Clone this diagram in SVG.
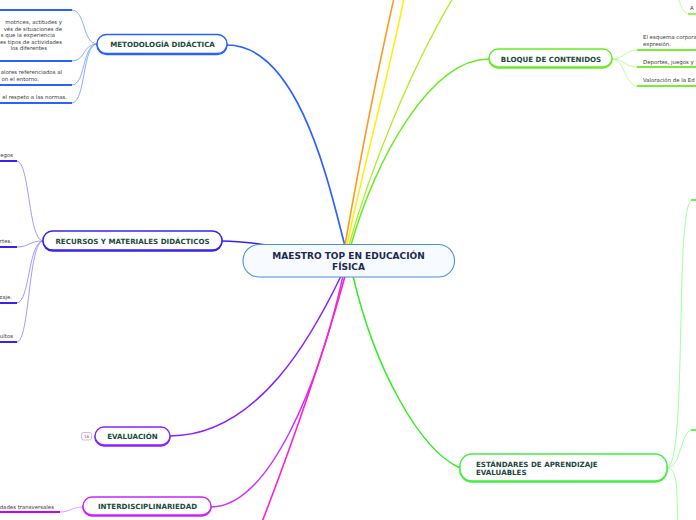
<svg xmlns="http://www.w3.org/2000/svg" width="696" height="520" viewBox="0 0 696 520">
<style>
.c{fill:none;stroke-linecap:round}
.t{font-family:"DejaVu Sans",Verdana,sans-serif;font-weight:bold;font-size:7.1px;fill:#1a4a3a}
.s{font-family:"DejaVu Sans",Verdana,sans-serif;font-size:5.4px;fill:#3a3a3a}
.nb{fill:#fff;stroke-width:1.4}
</style>
<rect width="696" height="520" fill="#fff"/>
<g id="connectors">
  <path class="c" d="M227,45 C300,45 330,190 345,246" stroke="#2a62ff" stroke-width="1.7"/>
  <path class="c" d="M222,241 C245,241 255,244 275,246" stroke="#3a22ee" stroke-width="1.5"/>
  <path class="c" d="M170,436 C260,436 315,330 341,276" stroke="#8822ff" stroke-width="1.5"/>
  <path class="c" d="M211,507 C270,507 320,380 343,276" stroke="#cc33ff" stroke-width="1.5"/>
  <path class="c" d="M262,522 C290,450 325,350 345,276" stroke="#ff22cc" stroke-width="1.6"/>
  <path class="c" d="M460,468 C420,450 375,370 353,276" stroke="#33ee22" stroke-width="1.5"/>
  <path class="c" d="M351,245 C375,160 430,59 489,59" stroke="#66ee22" stroke-width="1.5"/>
  <path class="c" d="M349,245 C370,170 410,70 453,-2" stroke="#aaee22" stroke-width="1.3"/>
  <path class="c" d="M347,245 C365,160 390,70 404,-2" stroke="#ffee00" stroke-width="1.5"/>
  <path class="c" d="M345,245 C360,160 380,60 394,-2" stroke="#ff9922" stroke-width="1.6"/>
  <!-- metodologia children -->
  <path class="c" d="M97,44 C82,44 86,10 72,10" stroke="#6a9aff" stroke-width="0.8"/>
  <path class="c" d="M97,44 C82,44 86,61 72,61" stroke="#6a9aff" stroke-width="0.8"/>
  <path class="c" d="M97,44 C82,44 86,85 72,85" stroke="#6a9aff" stroke-width="0.8"/>
  <path class="c" d="M97,44 C82,44 86,103 72,103" stroke="#6a9aff" stroke-width="0.8"/>
  <!-- recursos children -->
  <path class="c" d="M43,241 C28,241 30,161 17,161" stroke="#8a80ff" stroke-width="0.8"/>
  <path class="c" d="M43,241 C28,241 30,247 17,247" stroke="#8a80ff" stroke-width="0.8"/>
  <path class="c" d="M43,241 C28,241 30,303 17,303" stroke="#8a80ff" stroke-width="0.8"/>
  <path class="c" d="M43,241 C28,241 30,342 17,342" stroke="#8a80ff" stroke-width="0.8"/>
  <!-- inter child -->
  <path class="c" d="M83,507 C72,507 70,512 60,512" stroke="#dd88ff" stroke-width="0.8"/>
  <!-- bloque children -->
  <path class="c" d="M612,59 C625,59 625,50 637,50" stroke="#aaff77" stroke-width="0.8"/>
  <path class="c" d="M612,59 C625,59 625,67 637,67" stroke="#aaff77" stroke-width="0.8"/>
  <path class="c" d="M612,59 C625,59 625,86 637,86" stroke="#aaff77" stroke-width="0.8"/>
  <path class="c" d="M678,-2 C682,8 683,14 690,14" stroke="#aaff77" stroke-width="0.8"/>
  <!-- estandares children -->
  <path class="c" d="M667,468 C688,468 674,200 692,200" stroke="#88ff88" stroke-width="0.8"/>
  <path class="c" d="M667,468 C682,468 680,430 692,430" stroke="#88ff88" stroke-width="0.8"/>
  <path class="c" d="M667,468 C680,468 676,500 678,522" stroke="#88ff88" stroke-width="0.8"/>
</g>
<g id="metodologia-children">
  <line x1="0" y1="10" x2="72" y2="10" stroke="#2a62ff" stroke-width="2"/>
  <text class="s" text-anchor="end"><tspan x="62" y="24">motrices, actitudes y</tspan><tspan x="62" y="30.5">vés de situaciones de</tspan><tspan x="55" y="37">s que la experiencia</tspan><tspan x="62" y="43.5">es tipos de actividades</tspan><tspan x="47" y="50">los diferentes</tspan></text>
  <line x1="0" y1="61" x2="72" y2="61" stroke="#2a62ff" stroke-width="2"/>
  <text class="s" text-anchor="end"><tspan x="62" y="74">alores referenciados al</tspan><tspan x="39" y="80.5">on el entorno.</tspan></text>
  <line x1="0" y1="85" x2="72" y2="85" stroke="#2a62ff" stroke-width="2"/>
  <text class="s" text-anchor="end" x="67" y="99">el respeto a las normas.</text>
  <line x1="0" y1="103" x2="72" y2="103" stroke="#2a62ff" stroke-width="2"/>
</g>
<g id="recursos-children">
  <text class="s" text-anchor="end" x="13" y="157">egos</text>
  <line x1="0" y1="161" x2="17" y2="161" stroke="#3a22ee" stroke-width="2"/>
  <text class="s" text-anchor="end" x="12" y="243">rtes.</text>
  <line x1="0" y1="247" x2="17" y2="247" stroke="#3a22ee" stroke-width="2"/>
  <text class="s" text-anchor="end" x="12" y="299">zaje.</text>
  <line x1="0" y1="303" x2="17" y2="303" stroke="#3a22ee" stroke-width="2"/>
  <text class="s" text-anchor="end" x="13" y="338">ultos</text>
  <line x1="0" y1="342" x2="17" y2="342" stroke="#3a22ee" stroke-width="2"/>
</g>
<g id="inter-child">
  <text class="s" text-anchor="end" x="54" y="509">dades transversales</text>
  <line x1="0" y1="512" x2="60" y2="512" stroke="#cc00ff" stroke-width="2"/>
</g>
<g id="bloque-children">
  <text class="s" x="643"><tspan x="643" y="39">El esquema corpora</tspan><tspan x="643" y="45.5">expresión.</tspan></text>
  <line x1="637" y1="50" x2="696" y2="50" stroke="#77ee33" stroke-width="2"/>
  <text class="s" x="643" y="64">Deportes, juegos y</text>
  <line x1="637" y1="67" x2="696" y2="67" stroke="#77ee33" stroke-width="2"/>
  <text class="s" x="643" y="82">Valoración de la Ed</text>
  <line x1="637" y1="86" x2="696" y2="86" stroke="#77ee33" stroke-width="2"/>
  <text class="s" x="690" y="10">A</text>
  <line x1="688" y1="14" x2="696" y2="14" stroke="#77ee33" stroke-width="1.5"/>
</g>
<g id="estandares-children">
  <line x1="691" y1="200" x2="696" y2="200" stroke="#55ff44" stroke-width="2"/>
  <line x1="691" y1="430" x2="696" y2="430" stroke="#55ff44" stroke-width="2"/>
</g>
<g id="central">
  <rect x="243" y="244.5" width="211.5" height="32.5" rx="16" fill="#f7fbff" stroke="#4a90d0" stroke-width="1.1"/>
  <text class="t" style="font-size:9px;fill:#1a2a50" text-anchor="middle"><tspan x="348.5" y="258.5">MAESTRO TOP EN EDUCACIÓN</tspan><tspan x="348.5" y="269.5">FÍSICA</tspan></text>
</g>
<g id="metodologia">
  <rect x="97" y="35.5" width="130" height="19" rx="9.5" fill="#2a62ff" stroke="#2a62ff" stroke-width="1.4"/>
  <rect class="nb" x="97" y="34.5" width="130" height="19" rx="9.5" stroke="#2a62ff"/>
  <text class="t" text-anchor="middle" x="162.5" y="46.8">METODOLOGÍA DIDÁCTICA</text>
</g>
<g id="recursos">
  <rect x="43" y="232" width="179" height="19" rx="9.5" fill="#3a22ee" stroke="#3a22ee" stroke-width="1.4"/>
  <rect class="nb" x="43" y="231" width="179" height="19" rx="9.5" stroke="#3a22ee"/>
  <text class="t" text-anchor="middle" x="132.5" y="243.6">RECURSOS Y MATERIALES DIDÁCTICOS</text>
</g>
<g id="evaluacion">
  <rect x="95" y="428" width="75" height="18" rx="9" fill="#8822ff" stroke="#8822ff" stroke-width="1.4"/>
  <rect class="nb" x="95" y="427" width="75" height="18" rx="9" stroke="#8822ff"/>
  <text class="t" text-anchor="middle" x="132.5" y="439">EVALUACIÓN</text>
  <rect x="81.5" y="432.5" width="10" height="7.5" rx="2" fill="#fff" stroke="#c9a0ff" stroke-width="0.8"/>
  <text x="86.5" y="438" text-anchor="middle" style="font-family:'DejaVu Sans',sans-serif;font-size:4px;fill:#666">16</text>
</g>
<g id="interdisciplinariedad">
  <rect x="83" y="498" width="128" height="18" rx="9" fill="#cc22ff" stroke="#cc22ff" stroke-width="1.4"/>
  <rect class="nb" x="83" y="497" width="128" height="18" rx="9" stroke="#cc22ff"/>
  <text class="t" text-anchor="middle" x="147.5" y="509">INTERDISCIPLINARIEDAD</text>
</g>
<g id="bloque">
  <rect x="489" y="50" width="123" height="18" rx="9" fill="#66ee22" stroke="#66ee22" stroke-width="1.4"/>
  <rect class="nb" x="489" y="49" width="123" height="18" rx="9" stroke="#66ee22"/>
  <text class="t" text-anchor="middle" x="551" y="61.5">BLOQUE DE CONTENIDOS</text>
</g>
<g id="estandares">
  <rect x="460" y="455" width="207" height="27" rx="12" fill="#44ee44" stroke="#44ee44" stroke-width="1.4"/>
  <rect class="nb" x="460" y="454" width="207" height="27" rx="12" stroke="#44ee44"/>
  <text class="t"><tspan x="476" y="466.5">ESTÁNDARES DE APRENDIZAJE</tspan><tspan x="476" y="475">EVALUABLES</tspan></text>
</g>
</svg>
